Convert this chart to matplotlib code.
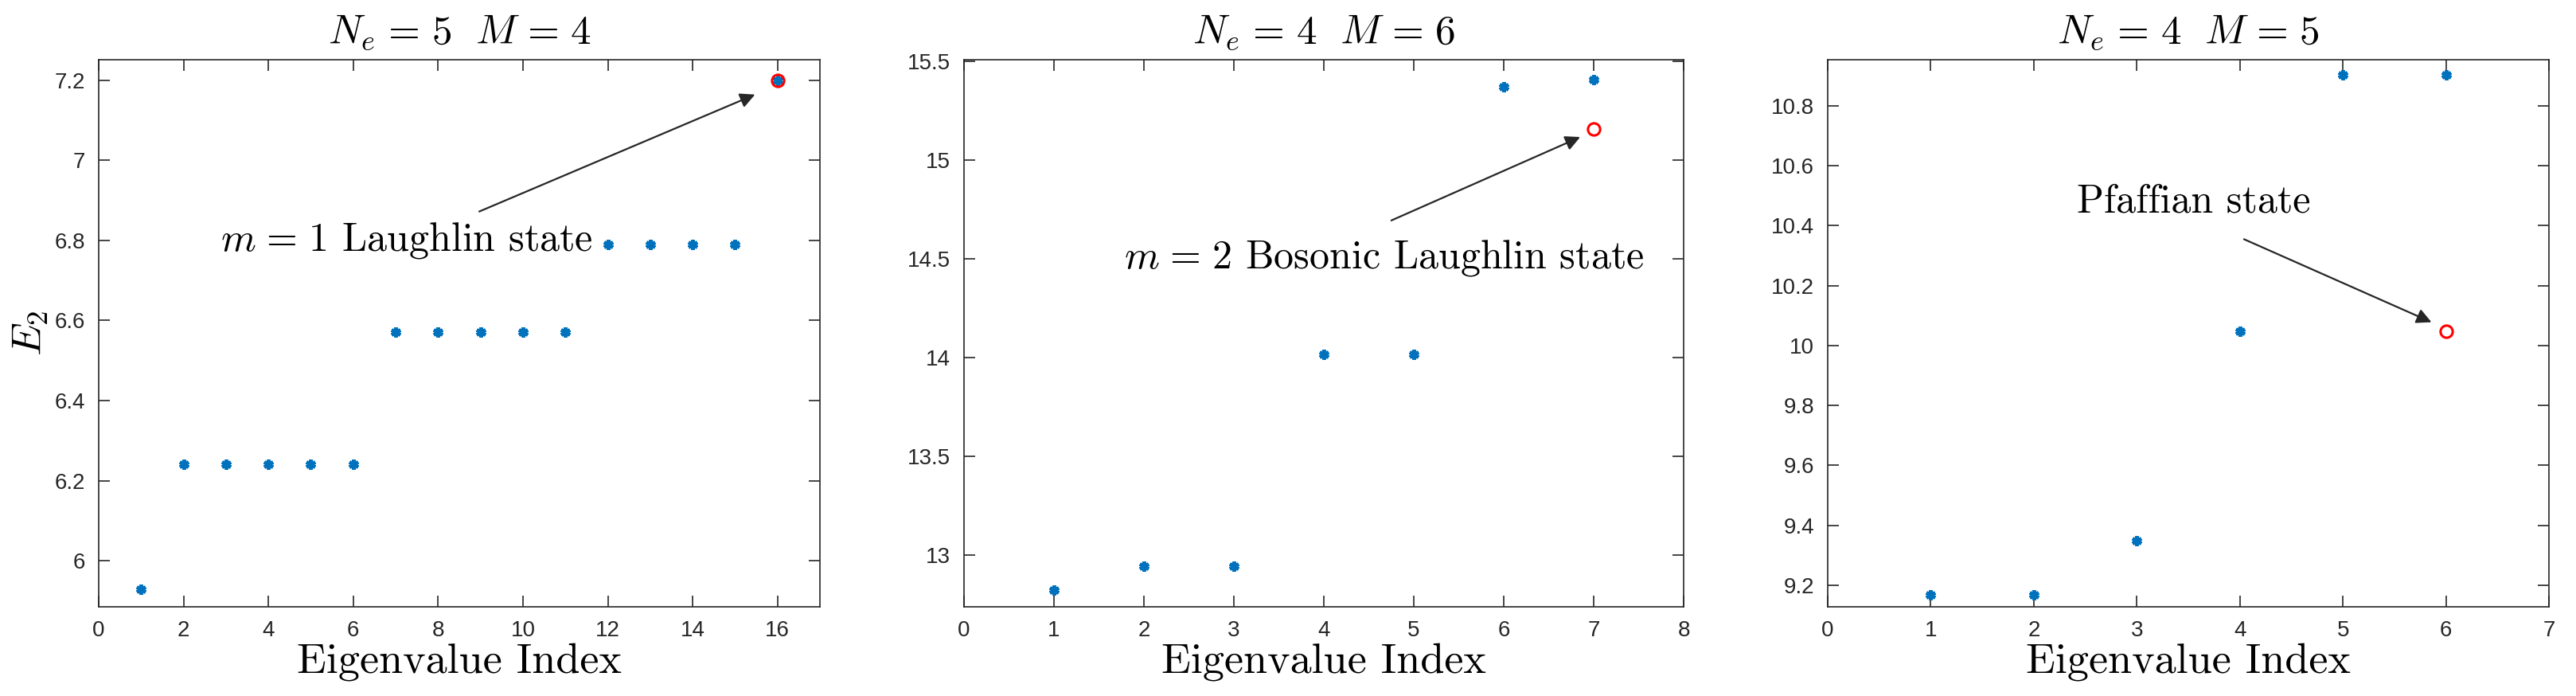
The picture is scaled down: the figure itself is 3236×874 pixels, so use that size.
"""
E_2 Eigenwerte fuer drei Systeme (Laughlin, bosonischer Laughlin, Pfaffian)
"""

import matplotlib
matplotlib.use('Agg')
import matplotlib.pyplot as plt
from matplotlib.ticker import FuncFormatter
import numpy as np

plt.rcParams['mathtext.fontset'] = 'cm'

# Daten
idx1 = np.arange(1, 17)
e2_1 = [5.928, 6.24, 6.24, 6.24, 6.24, 6.24, 6.571, 6.571, 6.571, 6.571, 6.571,
        6.789, 6.789, 6.789, 6.789, 7.20]
special1 = (16, 7.20)

idx2 = np.arange(1, 8)
e2_2 = [12.826, 12.946, 12.946, 14.018, 14.018, 15.369, 15.407]
special2 = (7, 15.157)

idx3 = np.arange(1, 7)
e2_3 = [9.169, 9.169, 9.349, 10.048, 10.904, 10.904]
special3 = (6, 10.048)

eq = r'\hspace{0.12}=\hspace{0.12}'
titles = [r'$N_e' + eq + r'5\ \ M' + eq + r'4$',
          r'$N_e' + eq + r'4\ \ M' + eq + r'6$',
          r'$N_e' + eq + r'4\ \ M' + eq + r'5$']
labels = [r'$m' + eq + r'1$ Laughlin state',
          r'$m' + eq + r'2$ Bosonic Laughlin state',
          'Pfaffian state']

# Positionen der Beschriftungen / Pfeile (Datenkoordinaten)
text_pos = [(2.88, 6.80), (1.78, 14.505), (2.42, 10.48)]
arrow_from = [(8.97, 6.872), (4.75, 14.694), (4.04, 10.355)]
arrow_to = [(15.47, 7.164), (6.85, 15.116), (5.86, 10.078)]

xlims = [(0, 17), (0, 8), (0, 7)]
ylims = [(5.885, 7.251), (12.74, 15.507), (9.128, 10.954)]
xticks = [np.arange(0, 17, 2), np.arange(0, 9, 1), np.arange(0, 8, 1)]
yticks = [np.arange(6, 7.21, 0.2), np.arange(13, 15.51, 0.5), np.arange(9.2, 10.81, 0.2)]

rects = [[0.0383, 0.1281, 0.2799, 0.7861],
         [0.3741, 0.1281, 0.2793, 0.7861],
         [0.7093, 0.1281, 0.2799, 0.7861]]

data = [(idx1, e2_1, special1), (idx2, e2_2, special2), (idx3, e2_3, special3)]

fig = plt.figure(figsize=(32.37, 8.74), dpi=100)
dark = '#262626'
blue = '#0072BD'

for i in range(3):
    ax = fig.add_axes(rects[i])
    xs, ys, sp = data[i]
    ax.plot(xs, ys, linestyle='none', marker=(6, 2, 0), markersize=9,
            markeredgewidth=3.2, color=blue)
    ax.plot([sp[0]], [sp[1]], linestyle='none', marker='o', markersize=11,
            markerfacecolor='none', markeredgecolor='red', markeredgewidth=2.2)

    ax.set_xlim(xlims[i])
    ax.set_ylim(ylims[i])
    ax.set_xticks(xticks[i])
    ax.set_yticks(yticks[i])
    ax.yaxis.set_major_formatter(FuncFormatter(lambda v, p: '%g' % round(v, 3)))
    ax.tick_params(direction='in', top=True, right=True, length=10, width=1.2,
                   color=dark, labelcolor=dark, labelsize=20, pad=12)
    for lab in ax.get_xticklabels() + ax.get_yticklabels():
        lab.set_fontfamily('Liberation Sans')
    for s in ax.spines.values():
        s.set_color(dark)
        s.set_linewidth(1.2)

    ax.set_title(titles[i], fontsize=37, pad=14, color='black')
    ax.set_xlabel('Eigenvalue Index', fontfamily='cmr10', fontsize=39, labelpad=2)
    if i == 0:
        ax.set_ylabel(r'$E_2$', fontsize=38, labelpad=4)

    ax.text(text_pos[i][0], text_pos[i][1], labels[i], fontfamily='cmr10',
            fontsize=36, ha='left', va='center')
    ax.annotate('', xy=arrow_to[i], xytext=arrow_from[i],
                arrowprops=dict(arrowstyle='-|>', lw=1.6, color=dark,
                                mutation_scale=28, shrinkA=0, shrinkB=0))

fig.savefig('out.png', dpi=100)
